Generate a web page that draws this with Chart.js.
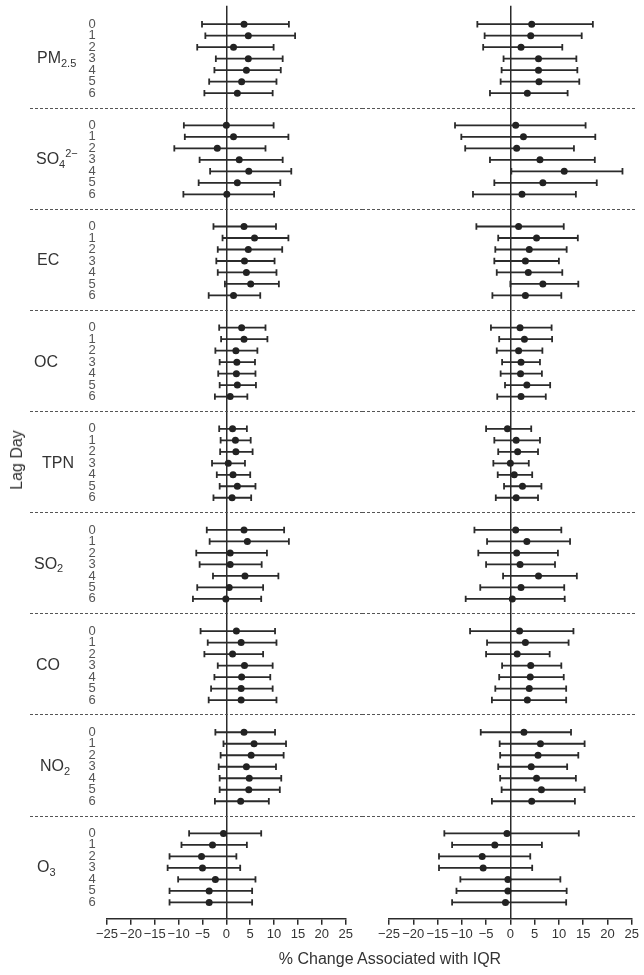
<!DOCTYPE html>
<html>
<head>
<meta charset="utf-8">
<script src="https://cdn.jsdelivr.net/npm/chart.js@4/dist/chart.umd.min.js"></script>
<style>
  html, body { margin: 0; padding: 0; background: #fff; }
  body { width: 644px; height: 975px; position: relative; overflow: hidden; font-family: "Liberation Sans", Arial, sans-serif; color: #333; }
  canvas { position: absolute; top: 0; }
  #left { left: 0; }
  #right { left: 362px; }
  .xtitle { position: absolute; left: 390px; top: 950px; transform: translateX(-50%); font-size: 16px; white-space: nowrap; }
  .ytitle { position: absolute; left: 17px; top: 460px; transform: translate(-50%, -50%) rotate(-90deg); font-size: 16px; white-space: nowrap; }
</style>
</head>
<body>
<canvas id="left" width="362" height="975"></canvas>
<canvas id="right" width="282" height="975"></canvas>
<div class="xtitle">% Change Associated with IQR</div>
<div class="ytitle">Lag Day</div>
<script>
const pollutants = ['PM', 'SO', 'EC', 'OC', 'TPN', 'SO', 'CO', 'NO', 'O'];
const pollutantSub = ['2.5', '4', '', '', '', '2', '', '2', '3'];
const pollutantSup = ['', '2\u2212', '', '', '', '', '', '', ''];
const lagDays = [0, 1, 2, 3, 4, 5, 6];
const xTicks = [-25, -20, -15, -10, -5, 0, 5, 10, 15, 20, 25];

// left panel, one row per pollutant, one value per lag day
const leftLow = [
  [-5.1, -4.4, -6.1, -2.2, -2.5, -3.6, -4.6],
  [-8.9, -8.7, -10.9, -5.6, -3.4, -5.8, -9.0],
  [-2.7, -0.8, -1.8, -2.1, -1.8, -0.3, -3.7],
  [-1.5, -1.1, -2.3, -1.4, -1.7, -1.4, -2.4],
  [-1.5, -1.2, -1.3, -3.0, -2.0, -1.4, -2.7],
  [-4.1, -3.5, -6.3, -5.6, -2.8, -6.1, -7.0],
  [-5.4, -3.9, -4.6, -1.8, -2.5, -3.2, -3.7],
  [-2.3, -0.6, -1.2, -1.6, -1.4, -1.4, -2.4],
  [-7.8, -9.4, -11.9, -12.3, -10.1, -11.9, -11.9]
];
const leftEst = [
  [3.7, 4.6, 1.5, 4.6, 4.2, 3.2, 2.3],
  [0.0, 1.5, -1.9, 2.7, 4.7, 2.3, 0.1],
  [3.7, 5.9, 4.6, 3.8, 4.2, 5.1, 1.5],
  [3.2, 3.7, 2.0, 2.2, 2.1, 2.3, 0.8],
  [1.3, 1.9, 2.0, 0.4, 1.4, 2.3, 1.2],
  [3.7, 4.4, 0.8, 0.8, 3.9, 0.6, -0.1],
  [2.1, 3.1, 1.3, 3.8, 3.2, 3.1, 3.1],
  [3.7, 5.8, 5.2, 4.2, 4.8, 4.7, 3.0],
  [-0.6, -2.9, -5.2, -5.0, -2.3, -3.6, -3.6]
];
const leftHigh = [
  [13.1, 14.4, 9.9, 11.8, 11.4, 10.5, 9.7],
  [9.9, 13.0, 8.2, 11.8, 13.6, 11.3, 10.0],
  [10.4, 13.0, 11.7, 10.1, 10.5, 11.0, 7.1],
  [8.2, 8.6, 6.5, 6.0, 6.1, 6.2, 4.4],
  [4.3, 5.1, 5.5, 3.9, 5.0, 6.1, 5.2],
  [12.1, 13.1, 8.5, 7.4, 10.9, 7.7, 7.3],
  [10.2, 10.5, 7.7, 9.7, 9.2, 9.7, 10.5],
  [10.2, 12.5, 12.0, 10.4, 11.5, 11.2, 8.9],
  [7.3, 4.3, 2.1, 2.9, 6.1, 5.4, 5.4]
];

// right panel
const rightLow = [
  [-6.8, -5.3, -5.6, -1.4, -1.8, -2.0, -4.2],
  [-11.4, -10.1, -9.3, -4.2, 0.2, -3.3, -7.7],
  [-7.0, -2.5, -3.1, -3.3, -2.8, 0.0, -3.7],
  [-4.0, -2.3, -2.8, -1.7, -2.0, -1.1, -2.7],
  [-5.0, -3.3, -2.5, -3.5, -2.6, -1.3, -3.0],
  [-7.4, -4.8, -6.6, -5.0, -1.5, -6.2, -9.2],
  [-8.3, -4.8, -5.0, -1.7, -2.3, -3.1, -3.8],
  [-6.1, -2.2, -2.1, -2.5, -2.1, -1.8, -3.8],
  [-13.6, -12.0, -14.7, -14.7, -10.3, -11.1, -12.0]
];
const rightEst = [
  [4.4, 4.2, 2.2, 5.8, 5.8, 5.9, 3.5],
  [1.1, 2.7, 1.3, 6.1, 11.1, 6.7, 2.4],
  [1.7, 5.4, 3.9, 3.1, 3.7, 6.7, 3.1],
  [2.0, 2.9, 1.7, 2.2, 2.1, 3.4, 2.2],
  [-0.6, 1.2, 1.5, 0.0, 0.8, 2.5, 1.2],
  [1.1, 3.4, 1.3, 2.0, 5.8, 2.2, 0.4],
  [1.9, 3.1, 1.4, 4.2, 4.1, 3.9, 3.5],
  [2.8, 6.2, 5.7, 4.3, 5.4, 6.4, 4.4],
  [-0.7, -3.2, -5.8, -5.6, -0.5, -0.5, -1.0]
];
const rightHigh = [
  [17.0, 14.7, 10.7, 13.6, 13.8, 14.2, 11.8],
  [15.5, 17.5, 13.1, 17.4, 23.1, 17.8, 13.5],
  [11.0, 13.9, 11.6, 10.0, 10.7, 14.0, 10.5],
  [8.5, 8.6, 6.6, 6.1, 6.5, 8.2, 7.3],
  [4.3, 6.1, 5.7, 3.8, 4.5, 6.4, 5.7],
  [10.5, 12.3, 9.8, 9.2, 13.7, 11.1, 11.2],
  [13.0, 12.0, 8.1, 10.5, 11.0, 11.5, 11.5],
  [12.5, 15.3, 14.0, 11.7, 13.5, 15.3, 13.3],
  [14.1, 6.5, 4.1, 4.5, 10.3, 11.6, 11.5]
];

const ink = '#2b2b2b';
const font = '"Liberation Sans", Arial, sans-serif';
const groupPitch = 8.8;
const rowY = (g, l) => g * groupPitch + l;
const yMin = -1.6;
const yMax = (pollutants.length - 1) * groupPitch + 6 + 1.42;
const labelX = [37, 36, 37, 34, 42, 34, 36, 40, 37];

function buildDatasets(low, est, high) {
  const bars = [], caps = [], dots = [];
  pollutants.forEach((p, g) => lagDays.forEach((lag, l) => {
    const y = rowY(g, l);
    bars.push({ x: low[g][l], y }, { x: high[g][l], y }, { x: null, y: null });
    caps.push({ x: low[g][l], y }, { x: high[g][l], y });
    dots.push({ x: est[g][l], y });
  }));
  return [
    { data: dots, pointStyle: 'circle', pointRadius: 3.5, pointBackgroundColor: '#222', pointBorderWidth: 0 },
    { data: caps, pointStyle: 'line', pointRotation: 90, pointRadius: 3.2, pointBorderColor: ink, pointBorderWidth: 1.8 },
    { data: bars, showLine: true, spanGaps: false, pointRadius: 0, borderColor: ink, borderWidth: 1.8 }
  ];
}

const separators = {
  id: 'separators',
  afterDraw(chart, args, opts) {
    const { ctx } = chart;
    const y = chart.scales.y;
    ctx.save();
    ctx.strokeStyle = '#555';
    ctx.lineWidth = 1;
    ctx.setLineDash([3, 2]);
    for (let g = 1; g < pollutants.length; g++) {
      const py = Math.round(y.getPixelForValue(rowY(g, 0) - 1.55)) + 0.5;
      ctx.beginPath();
      ctx.moveTo(opts.from, py);
      ctx.lineTo(opts.to, py);
      ctx.stroke();
    }
    ctx.restore();
  }
};

const rowLabels = {
  id: 'rowLabels',
  afterDraw(chart) {
    const { ctx } = chart;
    const y = chart.scales.y;
    ctx.save();
    ctx.textBaseline = 'middle';
    ctx.textAlign = 'center';
    ctx.fillStyle = '#555';
    ctx.font = '13px ' + font;
    pollutants.forEach((p, g) => lagDays.forEach((lag, l) => {
      ctx.fillText(String(lag), 92, y.getPixelForValue(rowY(g, l)));
    }));
    ctx.textAlign = 'left';
    ctx.fillStyle = '#333';
    pollutants.forEach((p, g) => {
      const py = y.getPixelForValue(rowY(g, 3));
      let x = labelX[g];
      ctx.font = '16px ' + font;
      ctx.fillText(p, x, py);
      x += ctx.measureText(p).width;
      ctx.font = '11px ' + font;
      if (pollutantSub[g]) {
        ctx.fillText(pollutantSub[g], x, py + 5);
        x += ctx.measureText(pollutantSub[g]).width;
      }
      if (pollutantSup[g]) {
        ctx.fillText(pollutantSup[g], x, py - 6);
      }
    });
    ctx.restore();
  }
};

function makeChart(id, low, est, high, padding, dashFrom, dashTo, extraPlugins) {
  return new Chart(document.getElementById(id), {
    type: 'scatter',
    data: { datasets: buildDatasets(low, est, high) },
    options: {
      responsive: false,
      animation: false,
      events: [],
      layout: { padding },
      plugins: {
        legend: { display: false },
        tooltip: { enabled: false },
        separators: { from: dashFrom, to: dashTo }
      },
      scales: {
        x: {
          type: 'linear',
          min: -25,
          max: 25,
          afterBuildTicks: (s) => { s.ticks = xTicks.map((v) => ({ value: v })); },
          afterFit: (s) => { s.height = 36; },
          ticks: {
            autoSkip: false,
            maxRotation: 0,
            padding: 2,
            color: '#333',
            font: { size: 13, family: font },
            callback: (v) => (v < 0 ? '\u2212' + Math.abs(v) : String(v))
          },
          grid: {
            drawOnChartArea: true,
            drawTicks: true,
            tickLength: 6,
            tickColor: ink,
            lineWidth: 1.5,
            color: (c) => (c.tick && c.tick.value === 0 ? ink : 'rgba(0,0,0,0)')
          },
          border: { display: true, color: ink, width: 1.5 }
        },
        y: { type: 'linear', reverse: true, min: yMin, max: yMax, display: false }
      }
    },
    plugins: [separators].concat(extraPlugins)
  });
}

makeChart('left', leftLow, leftEst, leftHigh,
  { left: 107, right: 16.3, top: 5, bottom: 20.3 }, 30, 362, [rowLabels]);
makeChart('right', rightLow, rightEst, rightHigh,
  { left: 27, right: 12.3, top: 5, bottom: 20.3 }, 0, 275, []);
</script>
</body>
</html>
